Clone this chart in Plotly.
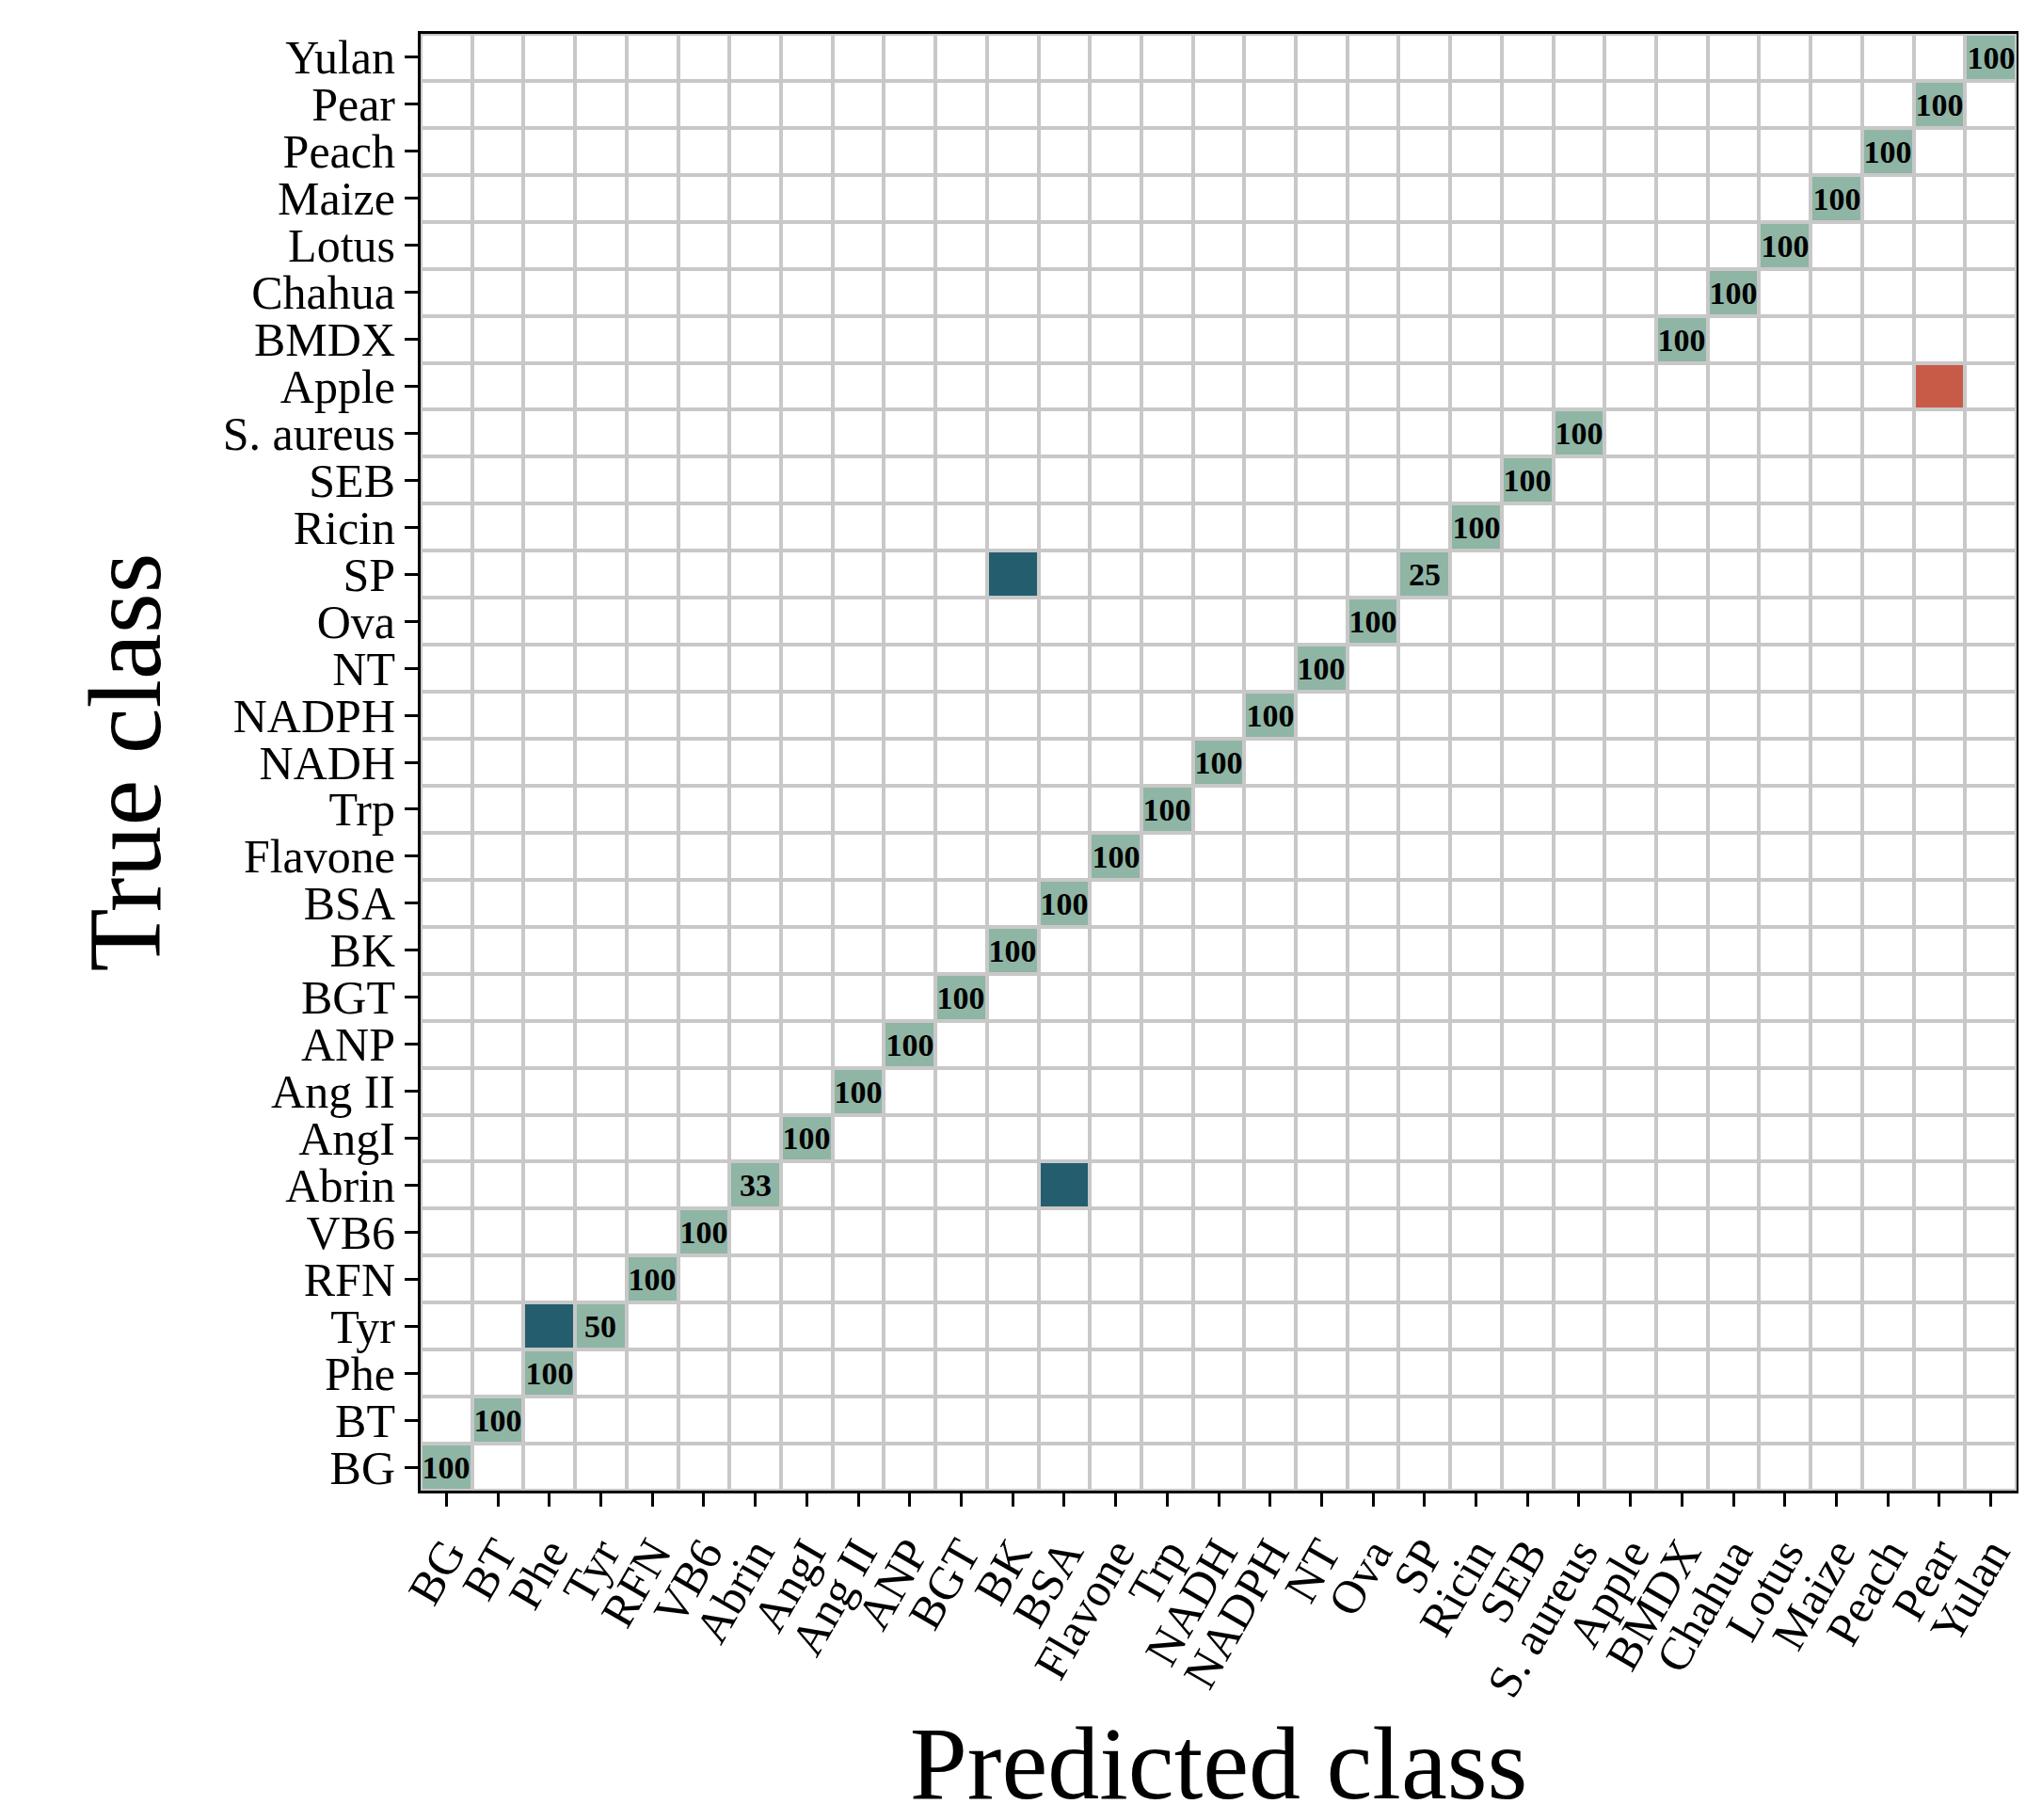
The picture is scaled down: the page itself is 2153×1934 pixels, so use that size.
import numpy as np
import plotly.graph_objects as go

classes = ["BG", "BT", "Phe", "Tyr", "RFN", "VB6", "Abrin", "AngI", "Ang II", "ANP", "BGT",
           "BK", "BSA", "Flavone", "Trp", "NADH", "NADPH", "NT", "Ova", "SP", "Ricin", "SEB",
           "S. aureus", "Apple", "BMDX", "Chahua", "Lotus", "Maize", "Peach", "Pear", "Yulan"]

# diagonal accuracy (%) per true class; None = no correct predictions
diag_values = [100, 100, 100, 50, 100, 100, 33, 100, 100, 100, 100,
               100, 100, 100, 100, 100, 100, 100, 100, 25, 100, 100,
               100, None, 100, 100, 100, 100, 100, 100, 100]

# misclassifications: (true class, predicted class, percent)
off_true = ["Tyr", "Abrin", "SP", "Apple"]
off_pred = ["Phe", "BSA", "BK", "Pear"]
off_values = [50, 67, 75, 100]

n = len(classes)
z = np.zeros((n, n))
text = [["" for _ in range(n)] for _ in range(n)]
for i, v in enumerate(diag_values):
    if v is not None:
        z[i, i] = 1
        text[i][i] = "<b>%d</b>" % v
for t, p, v in zip(off_true, off_pred, off_values):
    z[classes.index(t), classes.index(p)] = 3 if v == 100 else 2

colorscale = [[0, "white"], [0.25, "white"], [0.25, "#8fb5a5"], [0.5, "#8fb5a5"],
              [0.5, "#245e6e"], [0.75, "#245e6e"], [0.75, "#c85a48"], [1, "#c85a48"]]

fig = go.Figure(go.Heatmap(
    z=z, x=classes, y=classes, text=text, texttemplate="%{text}",
    textfont=dict(family="Liberation Serif", size=34, color="black"),
    colorscale=colorscale, zmin=0, zmax=3, showscale=False,
    xgap=4, ygap=4, hoverinfo="skip"))

axis_common = dict(showline=True, linecolor="black", linewidth=3, mirror=True,
                   ticks="outside", ticklen=14, tickwidth=3, tickcolor="black",
                   showgrid=False, dtick=1,
                   tickfont=dict(family="Liberation Serif", size=50, color="black"))
fig.update_xaxes(title=dict(text="Predicted class", standoff=10,
                            font=dict(family="Liberation Serif", size=110, color="black")),
                 tickangle=-60, **axis_common)
fig.update_yaxes(title=dict(text="True class", standoff=30,
                            font=dict(family="Liberation Serif", size=110, color="black")),
                 **axis_common)
fig.update_layout(width=2153, height=1934, plot_bgcolor="#c8c8c8", paper_bgcolor="white",
                  margin=dict(l=439, r=18, t=28, b=358))
fig.write_html("out.html")
